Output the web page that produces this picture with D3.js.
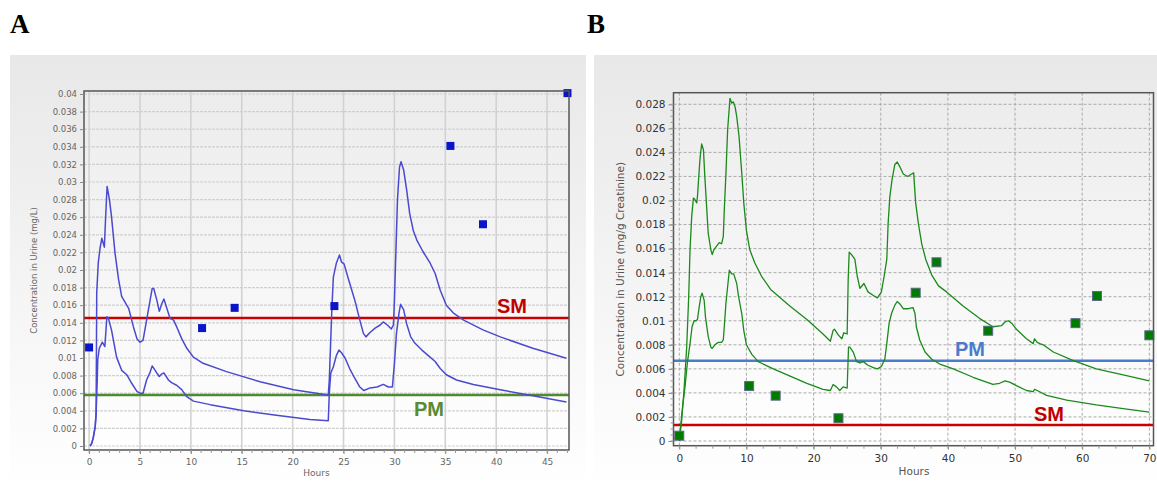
<!DOCTYPE html>
<html><head><meta charset="utf-8">
<script src="https://cdn.jsdelivr.net/npm/d3@7"></script>
<style>body{margin:0;background:#fff}svg{display:block}</style>
</head><body>
<script>
// ---------- Panel A data ----------
const aXTicks = [0,5,10,15,20,25,30,35,40,45];
const aYTicks = [0,0.002,0.004,0.006,0.008,0.01,0.012,0.014,0.016,0.018,0.02,0.022,0.024,0.026,0.028,0.03,0.032,0.034,0.036,0.038,0.04];
const aUpper = [[0.1,0],[0.26,0.0003],[0.42,0.001],[0.6,0.0022],[0.69,0.0037],[0.75,0.0174],[0.9,0.0208],[1.08,0.0225],[1.25,0.0236],[1.5,0.0226],[1.63,0.0261],[1.77,0.0295],[2.0,0.028],[2.2,0.0261],[2.55,0.0219],[2.9,0.0189],[3.2,0.017],[3.5,0.0164],[3.9,0.0156],[4.35,0.01356],[4.7,0.0122],[5.0,0.0118],[5.3,0.012],[5.65,0.0143],[6.0,0.0166],[6.2,0.0179],[6.35,0.0179],[6.65,0.0166],[6.9,0.0153],[7.15,0.0162],[7.35,0.0167],[7.6,0.0158],[7.95,0.0145],[8.3,0.0143],[8.6,0.01356],[9.1,0.0122],[9.6,0.0111],[10.25,0.0101],[11.2,0.0094],[13.5,0.00845],[16.8,0.0073],[20.1,0.0064],[21.7,0.0061],[23.5,0.0058],[23.6,0.0075],[23.85,0.0155],[24.0,0.0192],[24.3,0.0208],[24.6,0.0217],[24.8,0.0209],[25.05,0.0207],[25.5,0.0189],[26.1,0.0166],[26.6,0.0143],[26.95,0.0128],[27.2,0.0124],[27.6,0.0129],[28.1,0.0134],[28.6,0.01375],[28.9,0.0141],[29.3,0.01375],[29.7,0.0133],[29.9,0.01375],[30.0,0.0166],[30.1,0.0204],[30.3,0.028],[30.5,0.0317],[30.65,0.0323],[30.9,0.0314],[31.2,0.0291],[31.5,0.0264],[31.85,0.0245],[32.2,0.0234],[32.8,0.0221],[33.5,0.0208],[34.0,0.0196],[34.5,0.0177],[35.1,0.016],[35.8,0.0151],[36.8,0.0143],[38.7,0.0132],[40.4,0.0124],[43.6,0.0111],[46.9,0.00997]];
const aLower = [[0.1,0],[0.26,0.0003],[0.42,0.001],[0.6,0.0022],[0.69,0.0037],[0.8,0.0075],[0.85,0.0098],[1.0,0.0111],[1.3,0.0118],[1.55,0.0113],[1.75,0.0147],[1.9,0.0145],[2.2,0.0132],[2.7,0.0101],[3.2,0.0086],[3.7,0.0081],[4.2,0.0071],[4.7,0.0062],[5.0,0.006],[5.3,0.006],[5.65,0.0075],[6.0,0.0084],[6.2,0.0091],[6.65,0.0083],[6.9,0.0079],[7.15,0.0082],[7.35,0.0083],[7.8,0.0075],[8.1,0.0072],[8.6,0.0069],[9.1,0.0064],[9.6,0.0056],[10.25,0.0051],[11.9,0.0047],[15.2,0.004],[18.4,0.0035],[21.7,0.003],[23.5,0.00288],[23.6,0.006],[23.75,0.0083],[24.0,0.009],[24.3,0.0103],[24.55,0.0109],[24.8,0.0106],[25.15,0.01],[25.6,0.0088],[26.1,0.0077],[26.6,0.0067],[27.0,0.0063],[27.6,0.0066],[28.3,0.0067],[28.9,0.007],[29.4,0.0067],[29.8,0.0067],[30.0,0.0094],[30.2,0.0128],[30.45,0.0151],[30.6,0.0161],[30.9,0.0155],[31.2,0.0139],[31.6,0.0124],[32.0,0.0117],[32.7,0.0109],[33.3,0.0103],[34.0,0.0096],[34.5,0.0088],[35.1,0.0081],[36.1,0.0075],[37.75,0.007],[40.4,0.0064],[43.6,0.0057],[46.9,0.005]];
const aPoints = [[0,0.0112],[11.1,0.0134],[14.3,0.0157],[24.1,0.0159],[35.5,0.0341],[38.7,0.0252],[47,0.0401]];
const aSM = 0.01455, aPM = 0.0058;

// ---------- Panel B data ----------
const bXTicks = [0,10,20,30,40,50,60,70];
const bYTicks = [0,0.002,0.004,0.006,0.008,0.01,0.012,0.014,0.016,0.018,0.02,0.022,0.024,0.026,0.028];
const bUpper = [[0,0],[0.35,0.0017],[0.7,0.0042],[1.1,0.0078],[1.4,0.012],[1.6,0.0159],[1.85,0.0187],[2.1,0.0202],[2.3,0.0201],[2.6,0.0198],[2.7,0.0203],[2.9,0.022],[3.1,0.0236],[3.33,0.0247],[3.6,0.0242],[3.8,0.022],[4.1,0.0192],[4.3,0.0173],[4.7,0.0159],[4.9,0.0155],[5.15,0.0159],[5.55,0.0162],[5.95,0.0165],[6.3,0.0164],[6.55,0.017],[6.7,0.0192],[6.95,0.0223],[7.2,0.0259],[7.55,0.0285],[7.8,0.0281],[8.05,0.0282],[8.3,0.0278],[8.55,0.027],[8.9,0.0253],[9.3,0.0223],[9.6,0.0198],[10.0,0.0175],[10.5,0.0159],[11.25,0.0148],[12.25,0.0137],[13.6,0.0126],[16.5,0.0112],[19.0,0.0101],[21.4,0.0089],[22.5,0.0083],[22.9,0.0092],[23.1,0.0093],[23.7,0.0088],[24.2,0.0085],[24.5,0.009],[25.0,0.0089],[25.15,0.0134],[25.3,0.0157],[25.65,0.0155],[26.15,0.0151],[26.5,0.0137],[26.9,0.0127],[27.5,0.0131],[28.1,0.0124],[28.9,0.0121],[29.5,0.0119],[30.1,0.0124],[30.5,0.0137],[30.9,0.0151],[31.1,0.0181],[31.35,0.0203],[31.7,0.0218],[32.1,0.023],[32.45,0.0232],[32.85,0.0228],[33.35,0.0222],[34.0,0.022],[34.6,0.0222],[34.9,0.0223],[35.2,0.0198],[35.6,0.0181],[36.1,0.0164],[36.7,0.0151],[37.6,0.0138],[38.6,0.0129],[39.8,0.0124],[42.3,0.0112],[44.7,0.0102],[46.7,0.0095],[48.0,0.0096],[48.5,0.0099],[49.0,0.01],[49.5,0.0098],[50.2,0.0093],[51.7,0.0085],[52.7,0.0081],[52.9,0.0085],[53.3,0.0082],[53.7,0.0081],[54.2,0.008],[55.7,0.0074],[58.6,0.0067],[62.1,0.006],[66.1,0.0055],[70,0.005]];
const bLower = [[0,0],[0.2,0.0012],[0.5,0.0029],[0.85,0.0045],[1.2,0.0065],[1.6,0.0081],[1.9,0.0095],[2.2,0.01],[2.5,0.01],[2.7,0.0101],[2.9,0.0109],[3.2,0.012],[3.4,0.0123],[3.7,0.0117],[3.9,0.0103],[4.3,0.0087],[4.7,0.0078],[4.9,0.0077],[5.3,0.008],[5.8,0.0082],[6.3,0.0082],[6.55,0.0084],[6.7,0.0095],[6.95,0.0115],[7.45,0.0142],[7.8,0.0139],[8.1,0.0139],[8.55,0.0131],[8.8,0.0121],[9.3,0.0106],[9.6,0.0092],[10.0,0.008],[10.8,0.0072],[11.75,0.0066],[14.0,0.006],[16.5,0.0054],[19.0,0.0048],[21.4,0.0043],[22.5,0.0042],[22.9,0.0047],[23.4,0.0045],[23.9,0.0042],[24.4,0.0045],[25.0,0.0044],[25.2,0.0078],[25.4,0.0078],[25.9,0.0074],[26.4,0.0066],[26.9,0.0065],[27.4,0.0066],[28.1,0.0063],[28.9,0.0061],[29.5,0.006],[30.1,0.0062],[30.6,0.0068],[30.9,0.0081],[31.25,0.0098],[31.6,0.0106],[32.1,0.0113],[32.45,0.0116],[32.85,0.0114],[33.35,0.011],[34.1,0.011],[34.8,0.0111],[35.1,0.0106],[35.3,0.0095],[35.8,0.0084],[36.6,0.0074],[37.6,0.0068],[38.8,0.0064],[40.8,0.006],[43.75,0.0053],[46.7,0.0047],[47.7,0.0048],[48.5,0.005],[49.2,0.0049],[50.2,0.0046],[51.7,0.0042],[52.7,0.0041],[52.9,0.0043],[53.3,0.0042],[54.7,0.0038],[57.7,0.0034],[62.1,0.003],[66.1,0.0027],[70,0.0024]];
const bPoints = [[0,0.00044],[10.4,0.00457],[14.35,0.00377],[23.7,0.00189],[35.2,0.01233],[38.3,0.01486],[46.0,0.00917],[59.0,0.0098],[62.2,0.01206],[70,0.00879]];
const bPM = 0.00668, bSM = 0.00133;

const fmt = d => d === 0 ? "0" : d3.format("~g")(+d.toFixed(3));

const svg = d3.select("body").append("svg").attr("width",1157).attr("height",490);
const defs = svg.append("defs");
function grad(id, c1, c2){
  const g = defs.append("linearGradient").attr("id",id).attr("x1",0).attr("y1",0).attr("x2",0).attr("y2",1);
  g.append("stop").attr("offset","0%").attr("stop-color",c1);
  g.append("stop").attr("offset","100%").attr("stop-color",c2);
}
grad("outerG","#e8e8e8","#ffffff");
grad("plotG","#ececec","#ffffff");

// Panel letters
svg.append("text").attr("x",10).attr("y",33).text("A")
  .style("font-family","Liberation Serif, serif").style("font-weight","bold").style("font-size","27px");
svg.append("text").attr("x",587).attr("y",33).text("B")
  .style("font-family","Liberation Serif, serif").style("font-weight","bold").style("font-size","27px");

// ================= Panel A =================
(function(){
  svg.append("rect").attr("x",10).attr("y",55).attr("width",576).attr("height",435).attr("fill","url(#outerG)");
  const L=84, R=569, T=91, B=450;
  const x = d3.scaleLinear().domain([-0.5, (R-89)/10.18]).range([L,R]);
  // calibrate: value 0 at y=446, 0.04 at 94
  const y = d3.scaleLinear().domain([0,0.04]).range([446,94]);
  const g = svg.append("g");
  g.append("rect").attr("x",L).attr("y",T).attr("width",R-L).attr("height",B-T).attr("fill","url(#plotG)");
  // grid
  g.selectAll(".hg").data(aYTicks).join("line")
    .attr("x1",L).attr("x2",R).attr("y1",d=>y(d)).attr("y2",d=>y(d))
    .attr("stroke","#cfcfcf").attr("stroke-width",1.2).attr("stroke-dasharray","3,1");
  g.selectAll(".vg").data(aXTicks).join("line")
    .attr("x1",d=>x(d)).attr("x2",d=>x(d)).attr("y1",T).attr("y2",B)
    .attr("stroke","#d2d2d2").attr("stroke-width",1.6);
  // threshold lines
  g.append("line").attr("x1",L).attr("x2",R).attr("y1",y(aSM)).attr("y2",y(aSM)).attr("stroke","#cc0000").attr("stroke-width",2.5);
  g.append("line").attr("x1",L).attr("x2",R).attr("y1",y(aPM)).attr("y2",y(aPM)).attr("stroke","#4e8a2e").attr("stroke-width",2.5);
  // curves
  const line = d3.line().x(d=>x(d[0])).y(d=>y(d[1]));
  [aUpper,aLower].forEach(dat=>{
    g.append("path").attr("d",line(dat)).attr("fill","none").attr("stroke","#4a4ad0").attr("stroke-width",1.5).attr("stroke-linejoin","round");
  });
  // points
  g.selectAll(".pt").data(aPoints).join("rect")
    .attr("x",d=>x(d[0])-4).attr("y",d=>y(d[1])-4).attr("width",8).attr("height",8).attr("fill","#0a14c8");
  // frame
  g.append("rect").attr("x",L).attr("y",T).attr("width",R-L).attr("height",B-T).attr("fill","none").attr("stroke","#555").attr("stroke-width",1.5);
  // axes
  const xAxis = d3.axisBottom(x).tickValues(aXTicks).tickSize(4).tickFormat(d=>d);
  const gx = g.append("g").attr("transform",`translate(0,${B})`).call(xAxis);
  gx.select(".domain").remove();
  gx.selectAll("text").attr("fill","#666").style("font-family","DejaVu Sans").style("font-size","9px").attr("dy","0.9em");
  gx.selectAll("line").attr("stroke","#888");
  // minor x ticks
  g.selectAll(".mxt").data(d3.range(0,48,1)).join("line")
    .attr("x1",d=>x(d)).attr("x2",d=>x(d)).attr("y1",B).attr("y2",B+3).attr("stroke","#999");
  const yAxis = d3.axisLeft(y).tickValues(aYTicks).tickSize(4).tickFormat(fmt);
  const gy = g.append("g").attr("transform",`translate(${L},0)`).call(yAxis);
  gy.select(".domain").remove();
  gy.selectAll("text").attr("fill","#666").style("font-family","DejaVu Sans").style("font-size","8.5px");
  gy.selectAll("line").attr("stroke","#888");
  g.append("text").attr("x",(L+R)/2 - 10).attr("y",476).attr("text-anchor","middle").text("Hours")
    .attr("fill","#666").style("font-family","DejaVu Sans").style("font-size","9px");
  g.append("text").attr("transform",`translate(37,${(T+B)/2}) rotate(-90)`).attr("text-anchor","middle")
    .text("Concentration in Urine (mg/L)").attr("fill","#666").style("font-family","DejaVu Sans").style("font-size","8.5px");
  // labels
  g.append("text").attr("x",497).attr("y",313).text("SM").attr("fill","#c00000")
    .style("font-family","Liberation Sans, Arial").style("font-weight","bold").style("font-size","20px");
  g.append("text").attr("x",414).attr("y",416).text("PM").attr("fill","#5a8a32")
    .style("font-family","Liberation Sans, Arial").style("font-weight","bold").style("font-size","20px");
})();

// ================= Panel B =================
(function(){
  svg.append("rect").attr("x",594).attr("y",55).attr("width",563).attr("height",435).attr("fill","url(#outerG)");
  const L=673.5, R=1153.5, T=92.7, B=445.7;
  const x = d3.scaleLinear().domain([(L-679.3)/6.715,(R-679.3)/6.715]).range([L,R]);
  const y = d3.scaleLinear().domain([0,0.028]).range([441,104.3]);
  const g = svg.append("g");
  g.append("rect").attr("x",L).attr("y",T).attr("width",R-L).attr("height",B-T).attr("fill","url(#plotG)");
  g.selectAll(".hg").data(bYTicks).join("line")
    .attr("x1",L).attr("x2",R).attr("y1",d=>y(d)).attr("y2",d=>y(d))
    .attr("stroke","#aaa").attr("stroke-width",1).attr("stroke-dasharray","3,2");
  g.selectAll(".vg").data(bXTicks).join("line")
    .attr("x1",d=>x(d)).attr("x2",d=>x(d)).attr("y1",T).attr("y2",B)
    .attr("stroke","#aaa").attr("stroke-width",1).attr("stroke-dasharray","3,2");
  g.append("line").attr("x1",L).attr("x2",R).attr("y1",y(bPM)).attr("y2",y(bPM)).attr("stroke","#4a7ccc").attr("stroke-width",2.5);
  g.append("line").attr("x1",L).attr("x2",R).attr("y1",y(bSM)).attr("y2",y(bSM)).attr("stroke","#cc0000").attr("stroke-width",2.5);
  const line = d3.line().x(d=>x(d[0])).y(d=>y(d[1]));
  [bUpper,bLower].forEach(dat=>{
    g.append("path").attr("d",line(dat)).attr("fill","none").attr("stroke","#1a8a1a").attr("stroke-width",1.3).attr("stroke-linejoin","round");
  });
  g.selectAll(".pt").data(bPoints).join("rect")
    .attr("x",d=>x(d[0])-4.5).attr("y",d=>y(d[1])-4.5).attr("width",9).attr("height",9)
    .attr("fill","#007a00").attr("stroke","#5a6a8a").attr("stroke-width",1);
  g.append("rect").attr("x",L).attr("y",T).attr("width",R-L).attr("height",B-T).attr("fill","none").attr("stroke","#555").attr("stroke-width",1.5);
  const xAxis = d3.axisBottom(x).tickValues(bXTicks).tickSize(4).tickFormat(d=>d);
  const gx = g.append("g").attr("transform",`translate(0,${B})`).call(xAxis);
  gx.select(".domain").remove();
  gx.selectAll("text").attr("fill","#333").style("font-family","DejaVu Sans").style("font-size","10.5px").attr("dy","0.85em");
  gx.selectAll("line").attr("stroke","#888");
  g.selectAll(".mxt").data(d3.range(0,71,2.5)).join("line")
    .attr("x1",d=>x(d)).attr("x2",d=>x(d)).attr("y1",B).attr("y2",B+3).attr("stroke","#999");
  const yAxis = d3.axisLeft(y).tickValues(bYTicks).tickSize(5).tickFormat(fmt);
  const gy = g.append("g").attr("transform",`translate(${L},0)`).call(yAxis);
  gy.select(".domain").remove();
  gy.selectAll("text").attr("fill","#333").style("font-family","DejaVu Sans").style("font-size","10.5px");
  gy.selectAll("line").attr("stroke","#888");
  g.selectAll(".myt").data(d3.range(0,0.0285,0.0005)).join("line")
    .attr("x1",L-3).attr("x2",L).attr("y1",d=>y(d)).attr("y2",d=>y(d)).attr("stroke","#999");
  g.append("text").attr("x",914).attr("y",475).attr("text-anchor","middle").text("Hours")
    .attr("fill","#555").style("font-family","DejaVu Sans").style("font-size","10.5px");
  g.append("text").attr("transform",`translate(624,${(T+B)/2}) rotate(-90)`).attr("text-anchor","middle")
    .text("Concentration in Urine (mg/g Creatinine)").attr("fill","#555").style("font-family","DejaVu Sans").style("font-size","10.5px");
  g.append("text").attr("x",955).attr("y",356).text("PM").attr("fill","#4a7ccc")
    .style("font-family","Liberation Sans, Arial").style("font-weight","bold").style("font-size","20px");
  g.append("text").attr("x",1034).attr("y",421).text("SM").attr("fill","#c00000")
    .style("font-family","Liberation Sans, Arial").style("font-weight","bold").style("font-size","20px");
})();
</script>
</body></html>
